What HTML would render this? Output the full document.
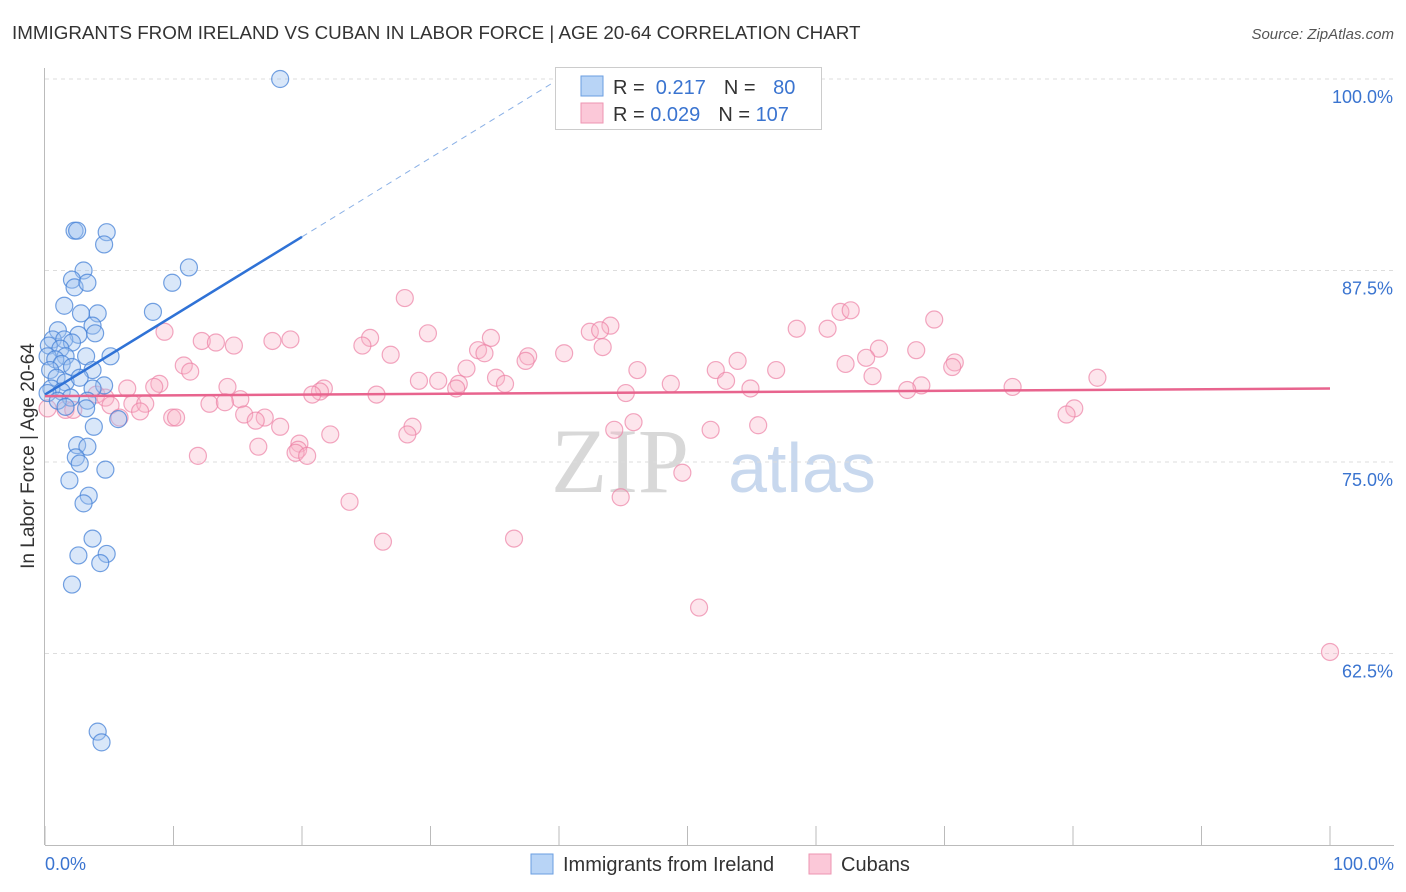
<!DOCTYPE html>
<html><head><meta charset="utf-8"><style>
body{margin:0;background:#fff;font-family:"Liberation Sans",sans-serif;}
svg{display:block}
</style></head><body>
<svg id="chart" width="1406" height="892">
<text x="12" y="39" font-size="18.8" fill="#333">IMMIGRANTS FROM IRELAND VS CUBAN IN LABOR FORCE | AGE 20-64 CORRELATION CHART</text>
<text x="1394" y="39" font-size="15" fill="#555" font-style="italic" text-anchor="end">Source: ZipAtlas.com</text>
<text transform="translate(34,456) rotate(-90)" font-size="19" fill="#333" text-anchor="middle">In Labor Force | Age 20-64</text>
<text x="620" y="492" font-size="92" fill="#d8d8d8" font-family="Liberation Serif,serif" text-anchor="middle">ZIP</text>
<text x="802" y="492" font-size="70" fill="#c8d8ee" text-anchor="middle">atlas</text>
<g id="grid"></g><g id="axes"></g><g id="pts"></g><g id="trend"></g>
<g>
<rect x="555.5" y="67.5" width="266" height="62" fill="#fff" stroke="#ccc"/>
<rect x="581" y="76" width="22" height="20" fill="#b8d4f6" stroke="#6a9ee0"/>
<rect x="581" y="103" width="22" height="20" fill="#fbc8d8" stroke="#ee95b2"/>
<text x="613" y="94" font-size="20" fill="#333">R = <tspan fill="#3a74d0">&#160;0.217</tspan><tspan dx="18">N = </tspan><tspan fill="#3a74d0" dx="12">80</tspan></text>
<text x="613" y="121" font-size="20" fill="#333">R = <tspan fill="#3a74d0">0.029</tspan><tspan dx="18">N = </tspan><tspan fill="#3a74d0">107</tspan></text>
</g>
<g>
<rect x="531" y="854" width="22" height="20" fill="#b8d4f6" stroke="#6a9ee0"/>
<text x="563" y="871" font-size="20" fill="#333">Immigrants from Ireland</text>
<rect x="809" y="854" width="22" height="20" fill="#fbc8d8" stroke="#ee95b2"/>
<text x="841" y="871" font-size="20" fill="#333">Cubans</text>
</g>
</svg>
<script>
const yTicks=[100,87.5,75,62.5];
const yTickLabels=["100.0%","87.5%","75.0%","62.5%"];
const xTickLabels=["0.0%","100.0%"];
const blueX=[18.3,2.3,2.5,4.8,4.6,11.2,3.0,2.1,2.3,3.3,9.9,1.5,8.4,2.8,4.1,3.7,3.9,1.0,2.6,0.6,1.5,2.1,0.3,1.2,5.1,0.2,1.6,3.2,0.8,1.3,2.1,3.7,0.4,0.9,1.6,2.7,4.6,3.7,0.5,1.3,0.2,2.0,1.0,3.3,1.6,3.2,5.7,3.8,2.5,3.3,2.4,2.7,4.7,1.9,3.4,3.0,3.7,2.6,4.8,4.3,2.1,4.1,4.4];
const blueY=[100,90.1,90.1,90.0,89.2,87.7,87.5,86.9,86.4,86.7,86.7,85.2,84.8,84.7,84.7,83.9,83.4,83.6,83.3,83.0,83.0,82.8,82.6,82.4,81.9,81.9,81.9,81.9,81.7,81.4,81.2,81.0,81.0,80.5,80.2,80.5,80.0,79.8,79.8,79.6,79.5,79.2,79.0,79.0,78.6,78.5,77.8,77.3,76.1,76.0,75.3,74.9,74.5,73.8,72.8,72.3,70.0,68.9,69.0,68.4,67.0,57.4,56.7];
const pinkX=[28.0,61.9,62.7,69.2,44.0,42.4,43.2,58.5,60.9,9.3,29.8,34.7,25.3,19.1,17.7,12.2,13.3,14.7,24.7,43.4,64.9,33.7,34.2,67.8,40.4,37.6,26.9,37.4,63.9,53.9,62.3,70.8,70.6,10.8,11.3,32.8,46.1,52.2,56.9,64.4,81.9,35.1,53.0,30.6,29.1,32.2,32.0,35.8,48.7,54.9,68.2,67.1,75.3,8.9,8.5,6.4,14.2,21.7,21.4,20.8,25.8,45.2,15.2,12.8,14.0,4.0,4.7,5.1,6.8,7.8,7.4,80.1,79.5,1.6,2.2,0.2,15.5,17.1,16.4,9.9,10.2,5.8,18.3,28.6,28.2,45.8,44.3,51.8,55.5,22.2,19.8,19.7,19.5,20.4,16.6,11.9,49.6,23.7,44.8,26.3,36.5,50.9,100];
const pinkY=[85.7,84.8,84.9,84.3,83.9,83.5,83.6,83.7,83.7,83.5,83.4,83.1,83.1,83.0,82.9,82.9,82.8,82.6,82.6,82.5,82.4,82.3,82.1,82.3,82.1,81.9,82.0,81.6,81.8,81.6,81.4,81.5,81.2,81.3,80.9,81.1,81.0,81.0,81.0,80.6,80.5,80.5,80.3,80.3,80.3,80.1,79.8,80.1,80.1,79.8,80.0,79.7,79.9,80.1,79.9,79.8,79.9,79.8,79.6,79.4,79.4,79.5,79.1,78.8,78.9,79.4,79.2,78.7,78.8,78.8,78.3,78.5,78.1,78.4,78.4,78.5,78.1,77.9,77.7,77.9,77.9,77.9,77.3,77.3,76.8,77.6,77.1,77.1,77.4,76.8,76.2,75.8,75.6,75.4,76.0,75.4,74.3,72.4,72.7,69.8,70.0,65.5,62.6];
const blueTrend=[0,79.4,20,89.7,40,100];
const pinkTrend=[0,79.3,100,79.8];
const NS="http://www.w3.org/2000/svg";
const X=v=>45+v*12.85, Y=v=>79+(100-v)*15.32;
function mk(tag,attrs,parent){const e=document.createElementNS(NS,tag);for(const k in attrs)e.setAttribute(k,attrs[k]);parent.appendChild(e);return e;}
const grid=document.getElementById('grid'),axes=document.getElementById('axes'),pts=document.getElementById('pts'),tr=document.getElementById('trend');
yTicks.forEach((t,i)=>{
 const l=mk('line',{x1:45,x2:1394,y1:Y(t),y2:Y(t),stroke:'#ddd','stroke-dasharray':'4,4'},grid);
 
 
 const tx=mk('text',{x:1393,y:Y(t)+24,'font-size':18,fill:'#3a74d0','text-anchor':'end'},axes);
 tx.textContent=yTickLabels[i];
 
 
});
const ax=mk('line',{x1:44.5,x2:44.5,y1:68,y2:845,stroke:'#bbb'},axes);


const bx=mk('line',{x1:45,x2:1394,y1:845.5,y2:845.5,stroke:'#bbb'},axes);


for(let i=0;i<=10;i++){const t=mk('line',{x1:X(i*10),x2:X(i*10),y1:826,y2:845,stroke:'#bbb'},axes);
 
 }
[[0,'start',45],[1,'end',1394]].forEach(([i,a,x])=>{const t=mk('text',{x:x,y:870,'font-size':18,fill:'#3a74d0','text-anchor':a},axes);t.textContent=xTickLabels[i];
 
 });
pinkX.forEach((v,i)=>{const c=mk('circle',{cx:X(v),cy:Y(pinkY[i]),r:8.5,fill:'rgba(248,180,200,0.35)',stroke:'rgba(236,130,165,0.7)','stroke-width':1.2},pts);
 
 });
blueX.forEach((v,i)=>{const c=mk('circle',{cx:X(v),cy:Y(blueY[i]),r:8.5,fill:'rgba(160,196,240,0.4)',stroke:'rgba(70,130,215,0.75)','stroke-width':1.2},pts);
 
 });
const b1=mk('line',{x1:X(blueTrend[0]),y1:Y(blueTrend[1]),x2:X(blueTrend[2]),y2:Y(blueTrend[3]),stroke:'#2f72d6','stroke-width':2.5},tr);


const b2=mk('line',{x1:X(blueTrend[2]),y1:Y(blueTrend[3]),x2:X(blueTrend[4]),y2:Y(blueTrend[5]),stroke:'#8ab0e6','stroke-width':1,'stroke-dasharray':'6,5'},tr);


const p1=mk('line',{x1:X(pinkTrend[0]),y1:Y(pinkTrend[1]),x2:X(pinkTrend[2]),y2:Y(pinkTrend[3]),stroke:'#e8648e','stroke-width':2.5},tr);


</script>
</body></html>
